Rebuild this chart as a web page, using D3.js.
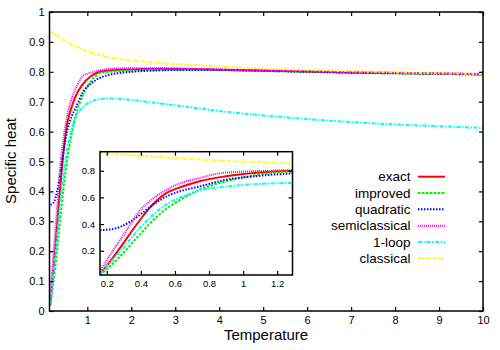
<!DOCTYPE html>
<html>
<head>
<meta charset="utf-8">
<script src="https://cdn.jsdelivr.net/npm/d3@7"></script>
<style>
  html, body { margin: 0; padding: 0; background: #fff; }
  svg { display: block; font-family: "Liberation Sans", Arial, Helvetica, sans-serif; }
</style>
</head>
<body>
<svg id="chart" width="500" height="350"></svg>
<script>
// ---- data ----
const temperature = [0.16, 0.22, 0.28, 0.34, 0.4, 0.45, 0.54, 0.64, 0.74, 0.89, 1.08, 1.29, 1.5, 2, 2.5, 3, 4, 5, 6, 7, 8, 9, 10];
const exact         = [0.025, 0.12, 0.225, 0.335, 0.44, 0.52, 0.625, 0.68, 0.72, 0.757, 0.785, 0.80, 0.804, 0.808, 0.81, 0.81, 0.807, 0.804, 0.801, 0.798, 0.796, 0.794, 0.792];
const improved      = [0.018, 0.085, 0.16, 0.245, 0.33, 0.40, 0.505, 0.59, 0.655, 0.718, 0.768, 0.795, 0.80, 0.804, 0.806, 0.807, 0.806, 0.803, 0.80, 0.797, 0.795, 0.793, 0.791];
const quadratic     = [0.355, 0.36, 0.38, 0.42, 0.475, 0.525, 0.60, 0.65, 0.68, 0.73, 0.76, 0.78, 0.79, 0.80, 0.804, 0.806, 0.806, 0.803, 0.80, 0.797, 0.795, 0.793, 0.791];
const semiclassical = [0.045, 0.17, 0.285, 0.40, 0.51, 0.57, 0.65, 0.71, 0.745, 0.785, 0.797, 0.805, 0.809, 0.812, 0.812, 0.811, 0.808, 0.805, 0.802, 0.799, 0.797, 0.795, 0.793];
const oneLoop       = [0.025, 0.11, 0.195, 0.29, 0.38, 0.443, 0.54, 0.605, 0.65, 0.68, 0.70, 0.709, 0.711, 0.706, 0.697, 0.688, 0.669, 0.654, 0.642, 0.632, 0.624, 0.618, 0.612];
const classical     = [0.935, 0.93, 0.925, 0.918, 0.912, 0.908, 0.90, 0.892, 0.885, 0.875, 0.865, 0.856, 0.848, 0.838, 0.831, 0.826, 0.818, 0.811, 0.806, 0.802, 0.798, 0.795, 0.793];

const seriesNames = ["exact", "improved", "quadratic", "semiclassical", "1-loop", "classical"];
const seriesValues = [exact, improved, quadratic, semiclassical, oneLoop, classical];

const mainXTicks = [1, 2, 3, 4, 5, 6, 7, 8, 9, 10];
const mainYTicks = [0, 0.1, 0.2, 0.3, 0.4, 0.5, 0.6, 0.7, 0.8, 0.9, 1];
const insetXTicks = [0.2, 0.4, 0.6, 0.8, 1, 1.2];
const insetYTicks = [0.2, 0.4, 0.6, 0.8];

// ---- styles ----
const styles = [
  { color: "#ff0000", dash: null },
  { color: "#00ee00", dash: "2.5,1.5" },
  { color: "#0000ff", dash: "1.5,1.5" },
  { color: "#ff00ff", dash: "1,1" },
  { color: "#00ffff", dash: "4,1.5,1.5,1.5" },
  { color: "#ffff00", dash: "3,1.5,1.5,1.5" }
];

const svg = d3.select("#chart");
const fmt = d => (d === 0 ? "0" : d3.format("~g")(d));

function panel(g, x, y, opts) {
  const [x0, x1] = x.range();
  const [y0, y1] = y.range();
  const clipId = "clip-" + opts.id;
  g.append("clipPath").attr("id", clipId)
    .append("rect").attr("x", x0).attr("y", y1).attr("width", x1 - x0).attr("height", y0 - y1);
  g.append("rect").attr("x", x0).attr("y", y1).attr("width", x1 - x0).attr("height", y0 - y1)
    .attr("fill", "#fff");

  const line = d3.line()
    .x((d, i) => x(temperature[i]))
    .y(d => y(d))
    .curve(d3.curveMonotoneX);
  const lines = g.append("g").attr("clip-path", `url(#${clipId})`);
  seriesValues.forEach((vals, k) => {
    lines.append("path")
      .attr("d", line(vals))
      .attr("fill", "none")
      .attr("stroke", styles[k].color)
      .attr("stroke-width", 2)
      .attr("stroke-dasharray", styles[k].dash);
  });

  const tl = opts.tick;
  const bottom = g.append("g").attr("transform", `translate(0,${y0})`)
    .call(d3.axisBottom(x).tickValues(opts.xTicks).tickSize(-tl).tickPadding(tl + opts.xPad).tickFormat(fmt));
  const top = g.append("g").attr("transform", `translate(0,${y1})`)
    .call(d3.axisTop(x).tickValues(opts.xTicks).tickSize(-tl).tickFormat(""));
  const left = g.append("g").attr("transform", `translate(${x0},0)`)
    .call(d3.axisLeft(y).tickValues(opts.yTicks).tickSize(-tl).tickPadding(tl + opts.yPad).tickFormat(fmt));
  const right = g.append("g").attr("transform", `translate(${x1},0)`)
    .call(d3.axisRight(y).tickValues(opts.yTicks).tickSize(-tl).tickFormat(""));
  [bottom, top, left, right].forEach(a => {
    a.select(".domain").remove();
    a.selectAll("line").attr("stroke", "#000").attr("stroke-width", 1.2);
    a.selectAll("text").attr("fill", "#000").style("font-size", opts.font + "px")
      .style("font-family", '"Liberation Sans", Arial, sans-serif');
  });
  g.append("rect").attr("x", x0).attr("y", y1).attr("width", x1 - x0).attr("height", y0 - y1)
    .attr("fill", "none").attr("stroke", "#000").attr("stroke-width", 1.5);
}

// ---- main plot ----
const xMain = d3.scaleLinear().domain([0.14, 10]).range([49.5, 483]);
const yMain = d3.scaleLinear().domain([0, 1]).range([311, 12]);
panel(svg.append("g"), xMain, yMain, { id: "main", xTicks: mainXTicks, yTicks: mainYTicks, tick: 4, font: 11, xPad: 1, yPad: 1 });

// axis titles
svg.append("text").attr("x", 266).attr("y", 340).attr("text-anchor", "middle")
  .style("font-size", "15px").text("Temperature");
svg.append("text").attr("transform", "translate(16,161) rotate(-90)").attr("text-anchor", "middle")
  .style("font-size", "15px").text("Specific heat");

// ---- inset ----
const xIn = d3.scaleLinear().domain([0.16, 1.29]).range([100, 292.5]);
const yIn = d3.scaleLinear().domain([0.018, 0.943]).range([275, 151.7]);
panel(svg.append("g"), xIn, yIn, { id: "inset", xTicks: insetXTicks, yTicks: insetYTicks, tick: 4, font: 9.5, xPad: 1, yPad: 1 });

// ---- legend ----
const legend = svg.append("g");
const legY = d3.scalePoint().domain(seriesNames).range([176.7, 258.3]);
seriesNames.forEach((name, k) => {
  const yy = legY(name);
  legend.append("text").attr("x", 410.5).attr("y", yy).attr("dy", "0.35em")
    .attr("text-anchor", "end").style("font-size", "13.5px").attr("fill", "#000").text(name);
  legend.append("line").attr("x1", 418).attr("x2", 445).attr("y1", yy).attr("y2", yy)
    .attr("stroke", styles[k].color).attr("stroke-width", 2)
    .attr("stroke-dasharray", styles[k].dash);
});
</script>
</body>
</html>
